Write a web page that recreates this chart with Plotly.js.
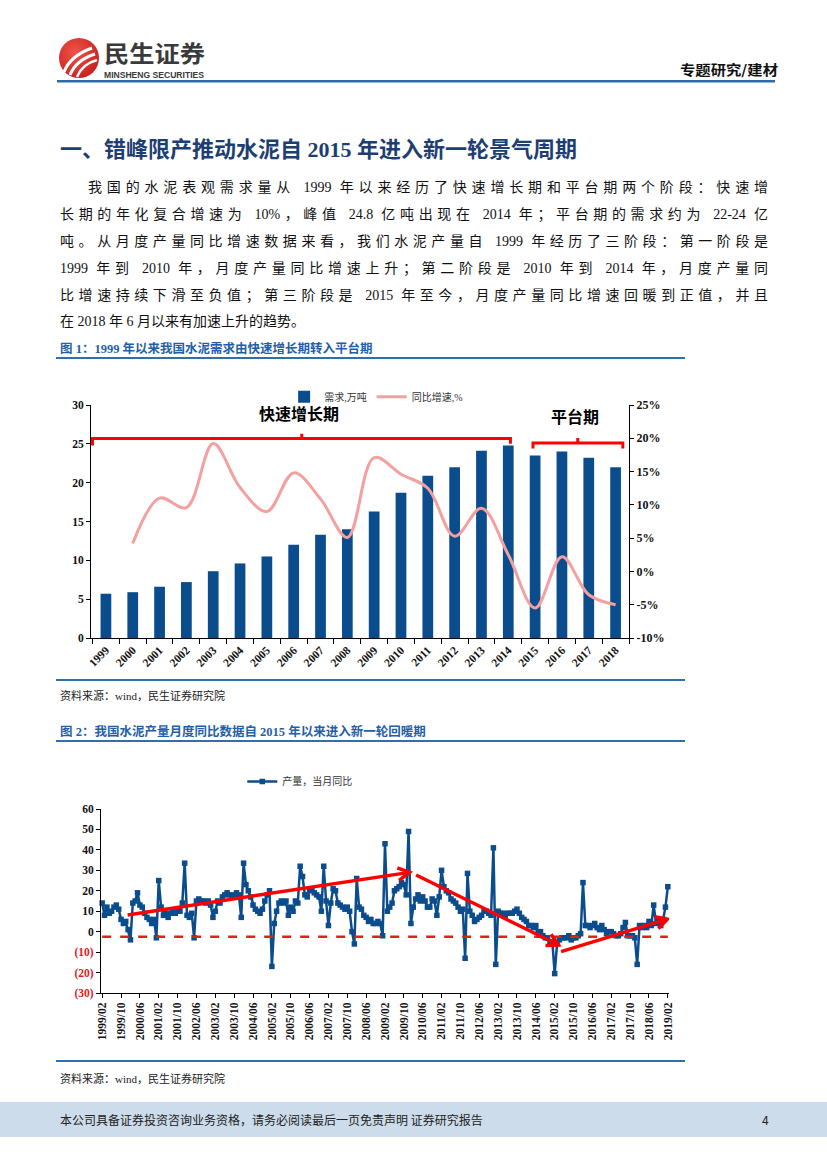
<!DOCTYPE html>
<html><head><meta charset="utf-8">
<script src="https://cdn.plot.ly/plotly-3.0.1.min.js"></script>
<style>
html,body{margin:0;padding:0;background:#fff;}
body{width:827px;height:1169px;position:relative;overflow:hidden;font-family:"Liberation Serif","Noto Sans CJK SC",serif;color:#111;}
.abs{position:absolute;white-space:nowrap;}
.para{position:absolute;left:60px;width:708px;font-size:14px;line-height:20px;height:20px;text-align:justify;text-align-last:justify;white-space:nowrap;}
.figt{position:absolute;left:60px;font-size:12.5px;font-weight:bold;color:#1F5FA8;line-height:16px;}
.rule{position:absolute;left:56px;width:629px;height:2px;background:#2F6FB0;}
.src{position:absolute;left:60px;font-size:11px;color:#222;line-height:14px;}
</style></head>
<body>
<!-- header -->
<svg class="abs" style="left:0;top:0" width="827" height="100">
  <defs><radialGradient id="rg" cx="40%" cy="35%" r="70%"><stop offset="0" stop-color="#F0524A"/><stop offset="1" stop-color="#C8201C"/></radialGradient></defs>
  <circle cx="79" cy="58" r="20" fill="url(#rg)"/>
  <path d="M64,72 Q70,56 92,48" stroke="#fff" stroke-width="3" fill="none"/>
  <path d="M70,75 Q76,60 95,54" stroke="#fff" stroke-width="3" fill="none"/>
  <path d="M77,77 Q82,64 97,60" stroke="#fff" stroke-width="2.5" fill="none"/>
  <text x="104" y="62" font-family="Noto Sans CJK SC" font-weight="bold" font-size="23" fill="#3a3a3a" textLength="101" lengthAdjust="spacingAndGlyphs">民生证券</text>
  <text x="104" y="78" font-family="Liberation Sans Narrow, Liberation Sans" font-weight="bold" font-size="8.5" fill="#3a3a3a" textLength="100" lengthAdjust="spacingAndGlyphs">MINSHENG SECURITIES</text>
  <text x="680" y="75" font-family="Noto Sans CJK SC" font-weight="bold" font-size="13.5" fill="#111" textLength="98" lengthAdjust="spacingAndGlyphs">专题研究/建材</text>
  <rect x="57" y="80" width="718" height="2.5" fill="#2E6AA6"/>
</svg>

<div class="abs" style="left:60px;top:136px;font-size:22px;font-weight:bold;color:#1D3E72;line-height:28px;font-family:'Liberation Serif','Noto Sans CJK SC';">一、错峰限产推动水泥自 2015 年进入新一轮景气周期</div>

<div class="para" style="top:178px;left:88px;width:680px;">我国的水泥表观需求量从 1999 年以来经历了快速增长期和平台期两个阶段：快速增</div>
<div class="para" style="top:205px;">长期的年化复合增速为 10%，峰值 24.8 亿吨出现在 2014 年；平台期的需求约为 22-24 亿</div>
<div class="para" style="top:232px;">吨。从月度产量同比增速数据来看，我们水泥产量自 1999 年经历了三阶段：第一阶段是</div>
<div class="para" style="top:259px;">1999 年到 2010 年，月度产量同比增速上升；第二阶段是 2010 年到 2014 年，月度产量同</div>
<div class="para" style="top:286px;">比增速持续下滑至负值；第三阶段是 2015 年至今，月度产量同比增速回暖到正值，并且</div>
<div class="para" style="top:312px;width:auto;text-align:left;text-align-last:auto;">在 2018 年 6 月以来有加速上升的趋势。</div>

<div class="figt" style="top:341px;">图 1：1999 年以来我国水泥需求由快速增长期转入平台期</div>
<div class="rule" style="top:357px;"></div>
<div id="chart1" class="abs" style="left:0;top:370px;width:827px;height:312px;"></div>
<div class="rule" style="top:679px;"></div>
<div class="src" style="top:689px;">资料来源：wind，民生证券研究院</div>

<div class="figt" style="top:724px;">图 2：我国水泥产量月度同比数据自 2015 年以来进入新一轮回暖期</div>
<div class="rule" style="top:740px;"></div>
<div id="chart2" class="abs" style="left:0;top:755px;width:827px;height:305px;"></div>
<div class="rule" style="top:1060px;"></div>
<div class="src" style="top:1072px;">资料来源：wind，民生证券研究院</div>

<div class="abs" style="left:0;top:1102px;width:827px;height:35px;background:#CCDCEA;"></div>
<div class="abs" style="left:60px;top:1112px;font-size:12px;line-height:16px;font-family:'Noto Sans CJK SC';color:#222;">本公司具备证券投资咨询业务资格，请务必阅读最后一页免责声明 证券研究报告</div>
<div class="abs" style="left:762px;top:1112px;font-size:12px;line-height:16px;font-family:'Noto Sans CJK SC';color:#222;">4</div>

<script>
// ---------- Chart 1 data ----------
const years = ['1999','2000','2001','2002','2003','2004','2005','2006','2007','2008','2009','2010','2011','2012','2013','2014','2015','2016','2017','2018'];
const demand = [5.7,5.9,6.6,7.2,8.6,9.6,10.5,12.0,13.3,14.0,16.3,18.7,20.9,22.0,24.1,24.8,23.5,24.0,23.2,22.0];
const growthPct = [null,4.2,11.0,9.6,19.2,12.6,9.0,14.8,10.9,5.1,17.1,14.6,12.5,5.3,9.5,2.5,-5.5,2.2,-3.5,-5.0];
const leftTicks = [0,5,10,15,20,25,30];
const rightTicks = [-10,-5,0,5,10,15,20,25];
const rightTickText = ['-10%','-5%','0%','5%','10%','15%','20%','25%'];

// ---------- Chart 2 data ----------
const monthTickLabels = ['1999/02','1999/10','2000/06','2001/02','2001/10','2002/06','2003/02','2003/10','2004/06','2005/02','2005/10','2006/06','2007/02','2007/10','2008/06','2009/02','2009/10','2010/06','2011/02','2011/10','2012/06','2013/02','2013/10','2014/06','2015/02','2015/10','2016/06','2017/02','2017/10','2018/06','2019/02'];
const yoyMonthly = [
  14, 8, 12, 9, 10, 12, 13, 11, 6, 4, 5, 1,
  -4, 14, 15, 19, 13, 12, 9, 7, 6, 4, 6, -3,
  25, 12, 8, 9, 7, 9, 10, 9, 11, 10, 14, 33.5,
  8, 7, 9, -3, 15, 16, 15, 15, 14, 15, 13, 7,
  10, 15, 14, 17, 18, 19, 18, 17, 18, 19, 18, 7,
  33.5, 23, 20, 17, 13, 11, 10, 9, 11, 15, 18, 20,
  -17, 4, 10, 14, 15, 14, 15, 8, 12, 10, 15, 14,
  32, 27, 18, 17, 20, 21, 19, 18, 17, 10, 32, 15,
  3, 14, 21, 20, 14, 13, 12, 11, 12, 10, 0, -6,
  26, 12, 11, 8, 7, 5, 6, 4, 4, 5, 4, -2,
  43, 10, 12, 14, 20, 21, 22, 24, 23, 18, 49, 4,
  12, 16, 18, 15, 17, 15, 12, 12, 16, 15, 8, 17,
  30, 22, 20, 19, 16, 15, 14, 12, 10, 11, -13, 28.5,
  10, 8, 5, 6, 7, 8, 10, 10, 9, 8, 41, -16,
  10, 9, 9, 8, 9, 9, 9, 10, 11, 9, 7, 6,
  5, 3, 3, 2, 3, 0, 0, -2, -3, -3, -5, -5,
  -20.5, -6, -4, -3, -3, -3, -2, -4, -3, -3, -2, -1,
  24, 3, 3, 2, 3, 4, 2, 1, 3, 1, -1, 0,
  0, -1, -2, -2, -1, 2, 4.5, -2, -2, -2, -3, -16,
  3, 2, 3, 2, 5, 3, 13, 4, 6, 3, 6, 12, 22
];
const y2Ticks = [60,50,40,30,20,10,0,-10,-20,-30];
const y2TickText = ['60','50','40','30','20','10','0','<span style="color:#E0201B">(10)</span>','<span style="color:#E0201B">(20)</span>','<span style="color:#E0201B">(30)</span>'];
const baselineLevel = -2.5;
// trend arrows: [startIndex, startValue, endIndex, endValue]
const trendArrows = [[10.8, 8.2, 130.4, 29.0],[133.2, 27.7, 193.6, -6.5],[194.7, -9.8, 239.8, 6.1]];

// month categories
const months = [];
{ let y = 1999, m = 2; for (let i = 0; i < yoyMonthly.length; i++) { months.push(y + '/' + String(m).padStart(2,'0')); m++; if (m > 12) { m = 1; y++; } } }

const BLUE = '#0B4D8C';
const RED = '#FF0000';
const tickFont = {family:'Liberation Serif, Times New Roman, serif', size:11.5, color:'#111', weight:'bold'};

// ---------- Chart 1 ----------
const c1 = {
  data: [
    {type:'bar', x: years, y: demand, name:'需求,万吨', marker:{color:BLUE}, width:0.4},
    {type:'scatter', mode:'lines', x: years, y: growthPct, name:'同比增速,%', yaxis:'y2',
     line:{color:'#F3A0A0', width:3, shape:'spline', smoothing:1}, connectgaps:false}
  ],
  layout: {
    width:827, height:312, margin:{l:91, r:198, t:33, b:44},
    paper_bgcolor:'rgba(0,0,0,0)', plot_bgcolor:'rgba(0,0,0,0)',
    showlegend:true,
    legend:{orientation:'h', x:0.53, xanchor:'center', y:1.035, yanchor:'middle',
            font:{family:'Liberation Serif, Noto Sans CJK SC', size:10, color:'#333'}, tracegroupgap:0},
    xaxis:{type:'category', showline:true, linecolor:'#000', linewidth:1, ticks:'outside', ticklen:5, tickcolor:'#000',
           tickson:'boundaries', tickangle:-45, tickfont:tickFont, showgrid:false, zeroline:false, fixedrange:true},
    yaxis:{range:[0,30], tickvals:leftTicks, showline:true, linecolor:'#000', linewidth:1, ticks:'outside', ticklen:4,
           tickcolor:'#000', tickfont:tickFont, showgrid:false, zeroline:false},
    yaxis2:{range:[-10,25], tickvals:rightTicks, ticktext:rightTickText, overlaying:'y', side:'right', showline:true, linecolor:'#000',
            linewidth:1, ticks:'outside', ticklen:4, tickcolor:'#000', tickfont:Object.assign({}, tickFont, {size:12}), showgrid:false, zeroline:false},
    bargap:0.6,
    shapes:[
      {type:'path', xref:'x', yref:'y', path:'M -0.5,24.8 L -0.5,25.7 L 15.08,25.7 L 15.08,25.0', line:{color:RED, width:3}},
      {type:'path', xref:'x', yref:'y', path:'M 7.3,25.7 L 7.3,26.3', line:{color:RED, width:3}},
      {type:'path', xref:'x', yref:'y', path:'M 15.92,24.4 L 15.92,25.1 L 19.27,25.1 L 19.27,24.4', line:{color:RED, width:3}},
      {type:'path', xref:'x', yref:'y', path:'M 17.59,25.1 L 17.59,25.75', line:{color:RED, width:3}}
    ],
    annotations:[
      {xref:'x', yref:'y', x:7.2, y:29.0, text:'<b>快速增长期</b>', showarrow:false, font:{family:'Noto Sans CJK SC', size:16, color:'#000'}},
      {xref:'x', yref:'y', x:17.5, y:28.6, text:'<b>平台期</b>', showarrow:false, font:{family:'Noto Sans CJK SC', size:16, color:'#000'}}
    ]
  }
};
Plotly.newPlot('chart1', c1.data, c1.layout, {displayModeBar:false, staticPlot:true});

// ---------- Chart 2 ----------
const W2 = 827, H2 = 305, M2 = {l:101, r:158, t:51, b:67};
const xr2 = [-0.5, months.length - 0.5], yr2 = [-30, 60];
const pxX = (W2 - M2.l - M2.r) / (xr2[1] - xr2[0]);
const pxY = (H2 - M2.t - M2.b) / (yr2[1] - yr2[0]);
function arrowShapes(a) {
  const [x0, y0, x1, y1] = a;
  const shapes = [{type:'line', xref:'x', yref:'y', x0:x0, y0:y0, x1:x1, y1:y1, line:{color:RED, width:3.5}}];
  const ang = Math.atan2((y1 - y0) * pxY, (x1 - x0) * pxX);
  const L = 13, s = 0.5;
  const p1 = [L * Math.cos(ang + Math.PI - s), L * Math.sin(ang + Math.PI - s)];
  const p2 = [L * Math.cos(ang + Math.PI + s), L * Math.sin(ang + Math.PI + s)];
  shapes.push({type:'path', xref:'x', yref:'y', xsizemode:'pixel', ysizemode:'pixel', xanchor:x1, yanchor:y1,
    path:`M ${p1[0].toFixed(2)},${p1[1].toFixed(2)} L 0,0 L ${p2[0].toFixed(2)},${p2[1].toFixed(2)}`,
    line:{color:RED, width:3.5}});
  return shapes;
}
let shapes2 = [{type:'line', xref:'x', yref:'y', x0:0, x1:months.length - 1, y0:baselineLevel, y1:baselineLevel,
                line:{color:'#E0201B', width:2.5, dash:'dash'}}];
trendArrows.forEach(a => { shapes2 = shapes2.concat(arrowShapes(a)); });

const c2 = {
  data: [{type:'scatter', mode:'lines+markers', x: months, y: yoyMonthly, name:'产量，当月同比',
          line:{color:BLUE, width:2.5}, marker:{symbol:'square', size:5.5, color:BLUE}, cliponaxis:false}],
  layout: {
    width:W2, height:H2, margin:M2,
    paper_bgcolor:'rgba(0,0,0,0)', plot_bgcolor:'rgba(0,0,0,0)',
    showlegend:true,
    legend:{orientation:'h', x:0.35, xanchor:'center', y:1.15, yanchor:'middle',
            font:{family:'Liberation Serif, Noto Sans CJK SC', size:10, color:'#333'}},
    xaxis:{type:'category', range:xr2, tickvals:monthTickLabels, ticktext:monthTickLabels, tickangle:-90,
           showline:true, linecolor:'#000', linewidth:1, ticks:'outside', ticklen:4, tickcolor:'#000',
           tickfont:tickFont, showgrid:false, zeroline:false},
    yaxis:{range:yr2, tickvals:y2Ticks, ticktext:y2TickText, showline:true, linecolor:'#000', linewidth:1,
           ticks:'outside', ticklen:4, tickcolor:'#000', tickfont:tickFont, showgrid:false, zeroline:false},
    shapes: shapes2
  }
};
Plotly.newPlot('chart2', c2.data, c2.layout, {displayModeBar:false, staticPlot:true});
</script>
</body></html>
